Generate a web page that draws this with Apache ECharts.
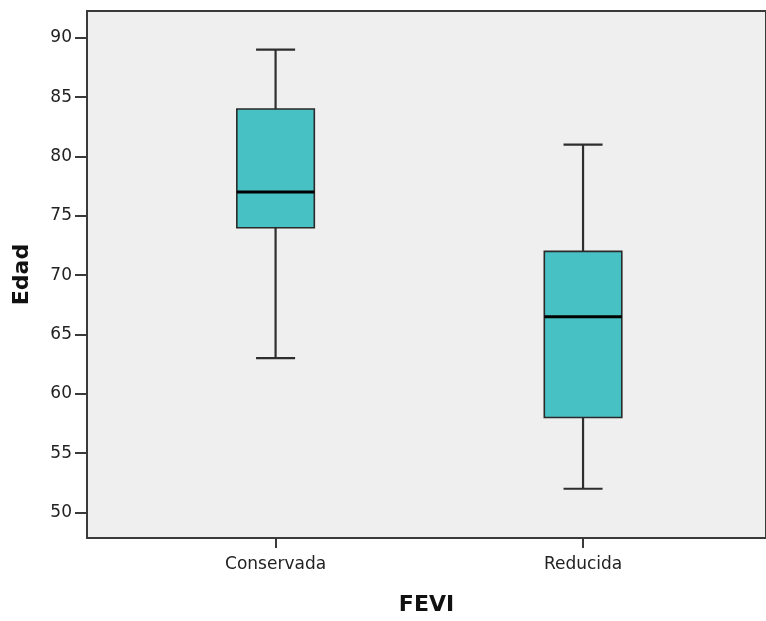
<!DOCTYPE html>
<html>
<head>
<meta charset="utf-8">
<script src="https://cdn.jsdelivr.net/npm/echarts@6/dist/echarts.min.js"></script>
<style>
html,body{margin:0;padding:0;background:#fff;}
#chart{width:766px;height:621px;}
</style>
</head>
<body>
<div id="chart"></div>
<script>
const categories = ['Conservada', 'Reducida'];
const lowerWhisker = [63, 52];
const q1 = [74, 58];
const median = [77, 66.5];
const q3 = [84, 72];
const upperWhisker = [89, 81];
const yTicks = [50, 55, 60, 65, 70, 75, 80, 85, 90];
const xName = 'FEVI';
const yName = 'Edad';

const seriesData = categories.map((c, i) => [i, lowerWhisker[i], q1[i], median[i], q3[i], upperWhisker[i]]);

const chart = echarts.init(document.getElementById('chart'));
const font = 'DejaVu Sans';
chart.setOption({
  animation: false,
  backgroundColor: '#ffffff',
  grid: {
    left: 87, right: -8, top: 11, bottom: 74,
    show: true, backgroundColor: '#efefef', borderColor: '#3a3a3a', borderWidth: 2
  },
  xAxis: {
    type: 'value',
    min: -0.6133, max: 1.595,
    name: xName, nameLocation: 'middle', nameGap: 56,
    nameTextStyle: { fontFamily: font, fontSize: 22, fontWeight: 'bold', color: '#111' },
    axisLine: { show: true, onZero: false, lineStyle: { color: '#3a3a3a', width: 2 } },
    axisTick: { show: true, length: 10, lineStyle: { color: '#3a3a3a', width: 2 }, customValues: categories.map((c, i) => i) },
    axisLabel: {
      customValues: categories.map((c, i) => i),
      formatter: v => categories[Math.round(v)] || '',
      fontFamily: font, fontSize: 17, color: '#222', margin: 18
    },
    splitLine: { show: false }
  },
  yAxis: {
    type: 'value',
    min: 47.85, max: 92.26,
    name: yName, nameLocation: 'middle', nameGap: 54, nameRotate: 90,
    nameTextStyle: { fontFamily: font, fontSize: 22, fontWeight: 'bold', color: '#111' },
    axisLine: { show: true, onZero: false, lineStyle: { color: '#3a3a3a', width: 2 } },
    axisTick: { show: true, length: 12, lineStyle: { color: '#3a3a3a', width: 2 }, customValues: yTicks },
    axisLabel: {
      customValues: yTicks,
      fontFamily: font, fontSize: 17, color: '#222', margin: 15
    },
    splitLine: { show: false }
  },
  series: [{
    type: 'custom',
    data: seriesData,
    encode: { x: 0, y: [1, 2, 3, 4, 5] },
    renderItem: function (params, api) {
      const x = api.value(0);
      const lo = api.coord([x, api.value(1)]);
      const b1 = api.coord([x, api.value(2)]);
      const md = api.coord([x, api.value(3)]);
      const b3 = api.coord([x, api.value(4)]);
      const hi = api.coord([x, api.value(5)]);
      const bw = api.size([0.252, 0])[0];
      const cw = api.size([0.127, 0])[0];
      const cx = lo[0];
      const wStyle = { stroke: '#2e2e2e', lineWidth: 2.2 };
      return {
        type: 'group',
        children: [
          { type: 'line', shape: { x1: cx, y1: hi[1], x2: cx, y2: b3[1] }, style: wStyle },
          { type: 'line', shape: { x1: cx, y1: b1[1], x2: cx, y2: lo[1] }, style: wStyle },
          { type: 'line', shape: { x1: cx - cw / 2, y1: hi[1], x2: cx + cw / 2, y2: hi[1] }, style: wStyle },
          { type: 'line', shape: { x1: cx - cw / 2, y1: lo[1], x2: cx + cw / 2, y2: lo[1] }, style: wStyle },
          { type: 'rect', shape: { x: cx - bw / 2, y: b3[1], width: bw, height: b1[1] - b3[1] },
            style: { fill: '#48c1c4', stroke: '#2a2a2a', lineWidth: 1.6 } },
          { type: 'line', shape: { x1: cx - bw / 2, y1: md[1], x2: cx + bw / 2, y2: md[1] },
            style: { stroke: '#000', lineWidth: 3 } }
        ]
      };
    }
  }]
});
</script>
</body>
</html>
